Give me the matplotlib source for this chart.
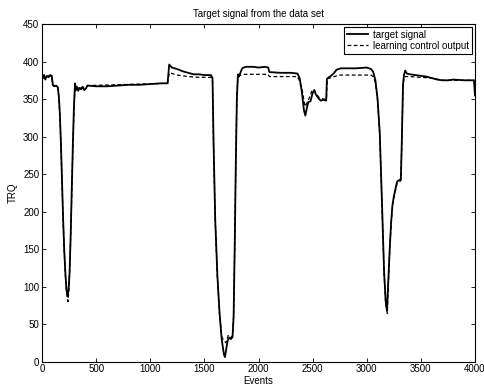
import numpy as np
import matplotlib
matplotlib.use('Agg')
import matplotlib.pyplot as plt

plt.rcParams['font.family'] = ['Liberation Sans', 'DejaVu Sans']
plt.rcParams['font.size'] = 7

# target signal (event, TRQ)
target_ev = [0, 10, 20, 30, 45, 60, 75, 90, 100, 115, 130, 145, 155, 165, 175, 185, 195,
             205, 215, 225, 235, 245, 255, 265, 275, 285, 295, 305, 315, 325, 335, 345,
             360, 375, 390, 405, 420, 500, 600, 700, 800, 900, 1000, 1100, 1160, 1175,
             1200, 1250, 1300, 1350, 1400, 1450, 1500, 1560, 1575, 1585, 1600, 1620,
             1640, 1660, 1680, 1690, 1700, 1715, 1730, 1745, 1760, 1770, 1780, 1790,
             1800, 1810, 1820, 1835, 1850, 1880, 1950, 2000, 2060, 2090, 2100, 2200,
             2300, 2360, 2380, 2400, 2420, 2433, 2445, 2460, 2480, 2500, 2515, 2530,
             2545, 2560, 2575, 2600, 2625, 2632, 2650, 2670, 2700, 2720, 2760, 2800,
             2900, 3000, 3040, 3060, 3080, 3100, 3120, 3140, 3160, 3175, 3187, 3200,
             3212, 3225, 3237, 3250, 3265, 3280, 3300, 3315, 3325, 3335, 3345, 3355,
             3370, 3400, 3450, 3500, 3550, 3600, 3650, 3700, 3750, 3800, 3900, 3990, 4000]
target_val = [385, 378, 382, 376, 381, 379, 382, 381, 369, 367, 368, 366, 355, 330, 290, 240, 190,
              150, 120, 98, 87, 95, 120, 170, 230, 290, 340, 371, 362, 366, 361, 365,
              363, 366, 362, 364, 368, 367, 367, 368, 369, 369, 370, 371, 371, 396,
              392, 390, 387, 385, 383, 383, 382, 382, 378, 290, 190, 115,
              65, 30, 10, 6, 15, 28, 32, 30, 33, 60, 150, 260,
              350, 383, 380, 386, 391, 393, 393, 392, 393, 392, 386, 385,
              385, 384, 378, 360, 335, 328, 337, 346, 347, 358, 362, 356,
              353, 350, 348, 349, 348, 377, 379, 381, 385, 389, 391, 391,
              391, 392, 390, 386, 375, 350, 305, 215, 120, 80, 68, 110,
              150, 185, 208, 220, 230, 240, 242, 243, 300, 370, 383, 388,
              384, 383, 382, 381, 380, 378, 376, 375, 375, 376, 375, 375, 355]

# learning control output
learn_ev = [0, 30, 60, 90, 100, 145, 155, 165, 175, 185, 195, 205, 215, 225, 240, 250,
            260, 270, 280, 290, 300, 310, 320, 400, 420, 1160, 1175, 1250, 1350, 1450,
            1560, 1575, 1585, 1600, 1620, 1640, 1660, 1680, 1700, 1720, 1740, 1760,
            1770, 1780, 1790, 1800, 1810, 1850, 2090, 2100, 2360, 2380, 2400, 2430,
            2460, 2490, 2510, 2530, 2560, 2600, 2628, 2635, 2700, 2750, 3040, 3060,
            3080, 3100, 3120, 3140, 3160, 3175, 3190, 3200, 3212, 3225, 3237, 3250,
            3265, 3280, 3300, 3315, 3325, 3335, 3345, 3400, 3600, 3700, 4000]
learn_val = [380, 378, 381, 380, 368, 366, 352, 328, 288, 238, 188, 148, 117, 95, 80, 100,
             140, 195, 255, 310, 352, 368, 365, 366, 368, 371, 385, 382, 380, 379,
             379, 376, 288, 188, 113, 63, 33, 28, 25, 35, 32, 34,
             62, 152, 262, 352, 380, 383, 383, 380, 380, 374, 365, 340,
             348, 360, 363, 358, 352, 350, 350, 377, 380, 382, 382, 380,
             372, 348, 302, 212, 118, 78, 64, 105, 148, 183, 206, 218,
             228, 238, 240, 241, 298, 366, 380, 380, 378, 375, 375]

fig = plt.figure(figsize=(4.84, 3.88), dpi=100)
ax = fig.add_axes([0.0868, 0.068, 0.8946, 0.87])

ax.plot(target_ev, target_val, color='black', linewidth=1.3, label='target signal')
ax.plot(learn_ev, learn_val, color='black', linewidth=0.9, linestyle=(0, (3, 2)),
        label='learning control output')

ax.set_xlim(0, 4000)
ax.set_ylim(0, 450)
ax.set_xticks(np.arange(0, 4001, 500))
ax.set_yticks(np.arange(0, 451, 50))
ax.tick_params(direction='in', top=True, right=True, length=3, width=0.6, labelsize=7, pad=2)
for s in ax.spines.values():
    s.set_linewidth(0.8)

ax.set_title('Target signal from the data set', fontsize=7, pad=5)
ax.set_xlabel('Events', fontsize=7, labelpad=1)
ax.set_ylabel('TRQ', fontsize=7, labelpad=4)

leg = ax.legend(loc='upper right', fontsize=7, fancybox=False, framealpha=1,
                edgecolor='black', borderpad=0.3, labelspacing=0.1, handlelength=2.2,
                handletextpad=0.5, borderaxespad=0.3)
leg.get_frame().set_linewidth(0.8)

fig.savefig('out.png', dpi=100)
